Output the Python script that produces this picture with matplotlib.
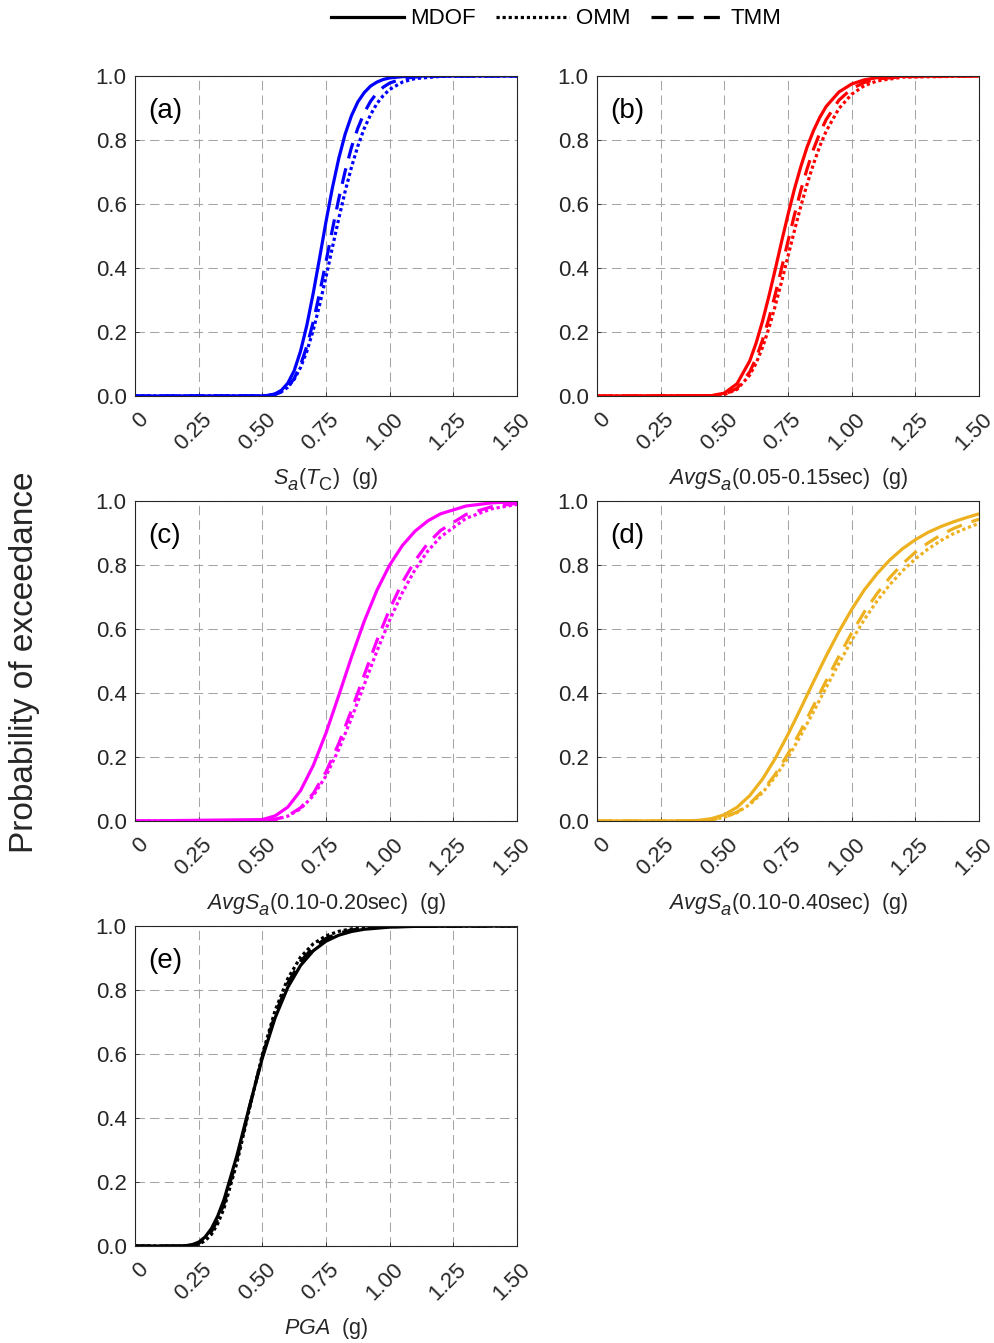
import matplotlib
matplotlib.use("Agg")
import matplotlib.pyplot as plt
import matplotlib._mathtext as mathtext_internals
from matplotlib.lines import Line2D
from matplotlib.transforms import ScaledTranslation

plt.rcParams["font.family"] = ["Liberation Sans", "DejaVu Sans"]
plt.rcParams["mathtext.fontset"] = "custom"
plt.rcParams["mathtext.rm"] = "Liberation Sans"
plt.rcParams["mathtext.it"] = "Liberation Sans:italic"
# larger, lower subscripts in the axis labels
mathtext_internals.SHRINK_FACTOR = 0.85
mathtext_internals.FontConstantsBase.sub1 = 0.55

# --- fragility curves: IM level (g) vs probability of exceedance ---
# (a) Sa(Tc)
im_a = [0, 0.5, 0.525, 0.55, 0.575, 0.6, 0.625, 0.65, 0.675, 0.7, 0.725,
        0.75, 0.775, 0.8, 0.825, 0.85, 0.875, 0.9, 0.925, 0.95, 0.975, 1.0,
        1.05, 1.1, 1.2, 1.5]
mdof_a = [0, 0.0005, 0.0021, 0.0068, 0.0179, 0.040, 0.079, 0.140, 0.222,
          0.322, 0.432, 0.545, 0.650, 0.742, 0.818, 0.876, 0.919, 0.948,
          0.9685, 0.981, 0.9892, 0.994, 0.998, 0.9995, 1.0, 1.0]
omm_a = [0, 0.0006, 0.002, 0.0055, 0.0131, 0.0274, 0.052, 0.089, 0.140,
         0.206, 0.285, 0.372, 0.464, 0.554, 0.639, 0.715, 0.781, 0.836, 0.879,
         0.914, 0.939, 0.958, 0.981, 0.992, 0.9988, 1.0]
tmm_a = [0, 0.0005, 0.0016, 0.0048, 0.0124, 0.0274, 0.0548, 0.0968, 0.156,
         0.232, 0.322, 0.420, 0.520, 0.616, 0.702, 0.777, 0.837, 0.885, 0.921,
         0.947, 0.9653, 0.978, 0.9915, 0.997, 0.9995, 1.0]

# (b) AvgSa(0.05-0.15sec)
im_b = [0, 0.45, 0.5, 0.55, 0.6, 0.625, 0.65, 0.675, 0.7, 0.725, 0.75, 0.775,
        0.8, 0.825, 0.85, 0.875, 0.9, 0.95, 1.0, 1.05, 1.1, 1.2, 1.5]
mdof_b = [0, 0.0013, 0.009, 0.0384, 0.110, 0.166, 0.234, 0.312, 0.396, 0.483,
          0.567, 0.646, 0.716, 0.778, 0.829, 0.871, 0.905, 0.950, 0.975,
          0.988, 0.9948, 0.999, 1.0]
omm_b = [0, 0.0006, 0.0045, 0.0207, 0.0655, 0.103, 0.152, 0.212, 0.282, 0.358,
         0.437, 0.516, 0.592, 0.662, 0.725, 0.781, 0.828, 0.8985, 0.943,
         0.970, 0.9846, 0.9964, 1.0]
tmm_b = [0, 0.0006, 0.005, 0.024, 0.0755, 0.119, 0.175, 0.242, 0.318, 0.400,
         0.484, 0.565, 0.642, 0.710, 0.771, 0.822, 0.864, 0.9245, 0.9605,
         0.980, 0.9906, 0.998, 1.0]

# (c) AvgSa(0.10-0.20sec)
im_c = [0, 0.5, 0.55, 0.6, 0.65, 0.7, 0.75, 0.8, 0.85, 0.9, 0.95, 1.0, 1.05,
        1.1, 1.15, 1.2, 1.3, 1.4, 1.5]
mdof_c = [0, 0.0044, 0.0159, 0.0434, 0.0948, 0.1736, 0.275, 0.392, 0.512,
          0.624, 0.721, 0.800, 0.861, 0.906, 0.938, 0.960, 0.9844, 0.9941,
          0.998]
omm_c = [0, 0.0011, 0.0048, 0.0152, 0.038, 0.079, 0.141, 0.2236, 0.321, 0.426,
         0.531, 0.628, 0.714, 0.786, 0.844, 0.888, 0.946, 0.9755, 0.9894]
tmm_c = [0, 0.0011, 0.0051, 0.0163, 0.0412, 0.0859, 0.1537, 0.242, 0.346,
         0.456, 0.564, 0.662, 0.746, 0.814, 0.868, 0.908, 0.958, 0.982,
         0.9927]

# (d) AvgSa(0.10-0.40sec)
im_d = [0, 0.3, 0.35, 0.4, 0.45, 0.5, 0.55, 0.6, 0.65, 0.7, 0.75, 0.8, 0.85,
        0.9, 0.95, 1.0, 1.05, 1.1, 1.15, 1.2, 1.25, 1.3, 1.35, 1.4, 1.45, 1.5]
mdof_d = [0, 0.0001, 0.0004, 0.0021, 0.0074, 0.0197, 0.0428, 0.0796, 0.131,
          0.1955, 0.2705, 0.3516, 0.435, 0.516, 0.592, 0.661, 0.7225, 0.773,
          0.816, 0.851, 0.879, 0.902, 0.920, 0.935, 0.948, 0.960]
omm_d = [0, 0.0, 0.0002, 0.0011, 0.0041, 0.0116, 0.0264, 0.0515, 0.0885,
         0.1378, 0.198, 0.267, 0.3413, 0.4175, 0.4926, 0.564, 0.630, 0.688,
         0.739, 0.782, 0.819, 0.850, 0.876, 0.898, 0.915, 0.930]
tmm_d = [0, 0.0, 0.0002, 0.0011, 0.0043, 0.0121, 0.0278, 0.0545, 0.0938,
         0.146, 0.210, 0.2823, 0.3598, 0.4384, 0.515, 0.5875, 0.6536, 0.711,
         0.761, 0.804, 0.840, 0.869, 0.894, 0.914, 0.930, 0.943]

# (e) PGA
im_e = [0, 0.15, 0.2, 0.225, 0.25, 0.275, 0.3, 0.325, 0.35, 0.4, 0.45, 0.5,
        0.55, 0.6, 0.65, 0.7, 0.75, 0.8, 0.85, 0.9, 1.0, 1.1, 1.5]
mdof_e = [0, 0.0, 0.0011, 0.0043, 0.0121, 0.0278, 0.0544, 0.0938, 0.146,
          0.282, 0.438, 0.5875, 0.7127, 0.8084, 0.8766, 0.9226, 0.9525,
          0.9713, 0.9828, 0.9898, 0.9965, 0.9988, 1.0]
omm_e = [0, 0.0, 0.0003, 0.0016, 0.0058, 0.016, 0.0362, 0.070, 0.119, 0.2594,
         0.431, 0.598, 0.7353, 0.8357, 0.9027, 0.9444, 0.9692, 0.9833, 0.9911,
         0.9953, 0.9987, 0.9997, 1.0]
tmm_e = [0, 0.0, 0.0006, 0.0027, 0.0086, 0.0215, 0.0451, 0.082, 0.133, 0.2713,
         0.435, 0.5923, 0.7234, 0.8216, 0.8894, 0.9336, 0.961, 0.9776, 0.9873,
         0.9929, 0.9978, 0.9993, 1.0]

panel_tags = ["(a)", "(b)", "(c)", "(d)", "(e)"]
panel_colors = ["#0000FF", "#FF0000", "#FF00FF", "#EDB120", "#000000"]
xlabels = [
    r"$\mathit{S}_{\mathit{a}}(\mathit{T}_{\mathrm{C}})$  (g)",
    r"$\mathit{AvgS}_{\mathit{a}}$(0.05-0.15sec$\mathit{)}$  (g)",
    r"$\mathit{AvgS}_{\mathit{a}}$(0.10-0.20sec$\mathit{)}$  (g)",
    r"$\mathit{AvgS}_{\mathit{a}}$(0.10-0.40sec$\mathit{)}$  (g)",
    r"$\mathit{PGA}$  (g)",
]
xticks = [0, 0.25, 0.5, 0.75, 1.0, 1.25, 1.5]
xticklabels = ["0", "0.25", "0.50", "0.75", "1.00", "1.25", "1.50"]
yticks = [0, 0.2, 0.4, 0.6, 0.8, 1.0]

panels = [
    (im_a, mdof_a, omm_a, tmm_a),
    (im_b, mdof_b, omm_b, tmm_b),
    (im_c, mdof_c, omm_c, tmm_c),
    (im_d, mdof_d, omm_d, tmm_d),
    (im_e, mdof_e, omm_e, tmm_e),
]

W, H = 994, 1343
fig = plt.figure(figsize=(W / 100, H / 100), dpi=100)

# axes boxes in pixels: left, top (all the same size)
boxes = [(135, 76), (597, 76), (135, 501), (597, 501), (135, 926)]
aw, ah = 382, 320

dotted = (0, (1, 0.9))
dashed = (0, (5, 3.2))
ink = "#262626"

for (left, top), (im, mdof, omm, tmm), tag, col, xl in zip(
        boxes, panels, panel_tags, panel_colors, xlabels):
    ax = fig.add_axes([left / W, 1 - (top + ah) / H, aw / W, ah / H])
    ax.plot(im, mdof, color=col, lw=2.3, solid_capstyle="butt")
    ax.plot(im, omm, color=col, lw=2.3, linestyle=dotted)
    ax.plot(im, tmm, color=col, lw=2.3, linestyle=dashed)
    ax.set_xlim(0, 1.5)
    ax.set_ylim(0, 1.0)
    ax.set_xticks(xticks)
    ax.set_xticklabels(xticklabels)
    ax.set_yticks(yticks)
    ax.set_yticklabels([f"{v:.1f}" for v in yticks])
    ax.grid(True, linestyle=(0, (9, 5)), color="#a5a5a5", lw=0.75)
    ax.tick_params(direction="in", length=3, width=0.6, colors=ink,
                   labelsize=16, labelcolor=ink)
    ax.tick_params(axis="y", pad=6)
    ax.tick_params(axis="x", pad=15)
    for s in ax.spines.values():
        s.set_color(ink)
        s.set_linewidth(0.8)
    shift = ScaledTranslation(0.10, 0, fig.dpi_scale_trans)
    for lab in ax.get_xticklabels():
        lab.set_rotation(45)
        lab.set_rotation_mode("anchor")
        lab.set_ha("right")
        lab.set_va("center")
        lab.set_transform(lab.get_transform() + shift)
    ax.text(0.034, 0.89, tag, transform=ax.transAxes, fontsize=20,
            ha="left", va="center", color="#000000")
    ax.text(0.5, -0.275, xl, transform=ax.transAxes, fontsize=15.5,
            ha="center", va="baseline", color=ink)

fig.text(25 / W, 1 - 662 / H, "Probability of exceedance", rotation=90,
         fontsize=24, ha="center", va="center", color=ink)

handles = [
    Line2D([], [], color="black", lw=2.3),
    Line2D([], [], color="black", lw=2.3, linestyle=dotted),
    Line2D([], [], color="black", lw=2.3, linestyle=dashed),
]
fig.legend(handles, ["MDOF", "OMM", "TMM"], loc="center",
           bbox_to_anchor=(556 / W, 1 - 19 / H), ncol=3, frameon=False,
           fontsize=16, handlelength=3.3, handletextpad=0.3,
           columnspacing=0.9)

fig.savefig("out.png", dpi=100)
